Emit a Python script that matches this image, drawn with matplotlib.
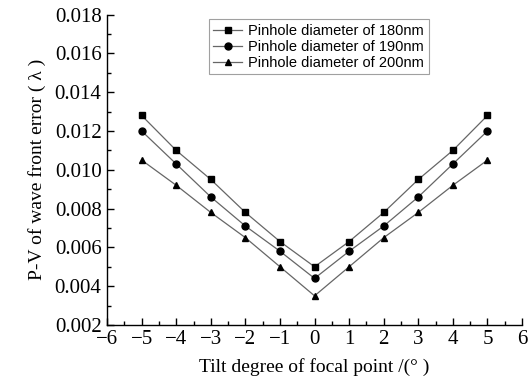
import matplotlib
matplotlib.use("Agg")
import matplotlib.pyplot as plt
from matplotlib.ticker import MultipleLocator, FormatStrFormatter

tilt = [-5, -4, -3, -2, -1, 0, 1, 2, 3, 4, 5]
pv_180 = [0.0128, 0.0110, 0.0095, 0.0078, 0.0063, 0.0050, 0.0063, 0.0078, 0.0095, 0.0110, 0.0128]
pv_190 = [0.0120, 0.0103, 0.0086, 0.0071, 0.0058, 0.0044, 0.0058, 0.0071, 0.0086, 0.0103, 0.0120]
pv_200 = [0.0105, 0.0092, 0.0078, 0.0065, 0.0050, 0.0035, 0.0050, 0.0065, 0.0078, 0.0092, 0.0105]
labels = ["Pinhole diameter of 180nm", "Pinhole diameter of 190nm", "Pinhole diameter of 200nm"]
markers = ["s", "o", "^"]

serif = ["Liberation Serif", "DejaVu Serif"]
fig = plt.figure(figsize=(5.3, 3.85), dpi=100)
ax = fig.add_axes([0.202, 0.156, 0.783, 0.806])

for ys, lab, mk in zip([pv_180, pv_190, pv_200], labels, markers):
    ax.plot(tilt, ys, color="#666666", lw=0.9, marker=mk, markersize=5,
            markerfacecolor="black", markeredgecolor="black", label=lab)

ax.set_xlim(-6, 6)
ax.set_ylim(0.002, 0.018)
ax.xaxis.set_major_locator(MultipleLocator(1))
ax.xaxis.set_minor_locator(MultipleLocator(0.5))
ax.yaxis.set_major_locator(MultipleLocator(0.002))
ax.yaxis.set_minor_locator(MultipleLocator(0.001))
ax.yaxis.set_major_formatter(FormatStrFormatter("%.3f"))
ax.spines["top"].set_visible(False)
ax.spines["right"].set_visible(False)
for s in ["left", "bottom"]:
    ax.spines[s].set_linewidth(1.0)
ax.tick_params(which="both", direction="in", width=1.0)
ax.tick_params(which="major", length=5, labelsize=15, pad=4)
ax.tick_params(which="minor", length=3)
for t in ax.get_xticklabels() + ax.get_yticklabels():
    t.set_family(serif)

ax.set_xlabel("Tilt degree of focal point /(° )", family=serif, fontsize=14, labelpad=6)
ax.set_ylabel("P-V of wave front error ( λ )", family=serif, fontsize=14, labelpad=6)

leg = ax.legend(loc="upper center", bbox_to_anchor=(0.51, 0.985), frameon=True,
                fancybox=False, edgecolor="#888888", handlelength=2.0,
                prop={"family": ["Liberation Sans", "DejaVu Sans"], "size": 10.5},
                borderpad=0.3, labelspacing=0.15, handletextpad=0.4, borderaxespad=0)
leg.get_frame().set_linewidth(0.8)

fig.savefig("out.png", dpi=100)
